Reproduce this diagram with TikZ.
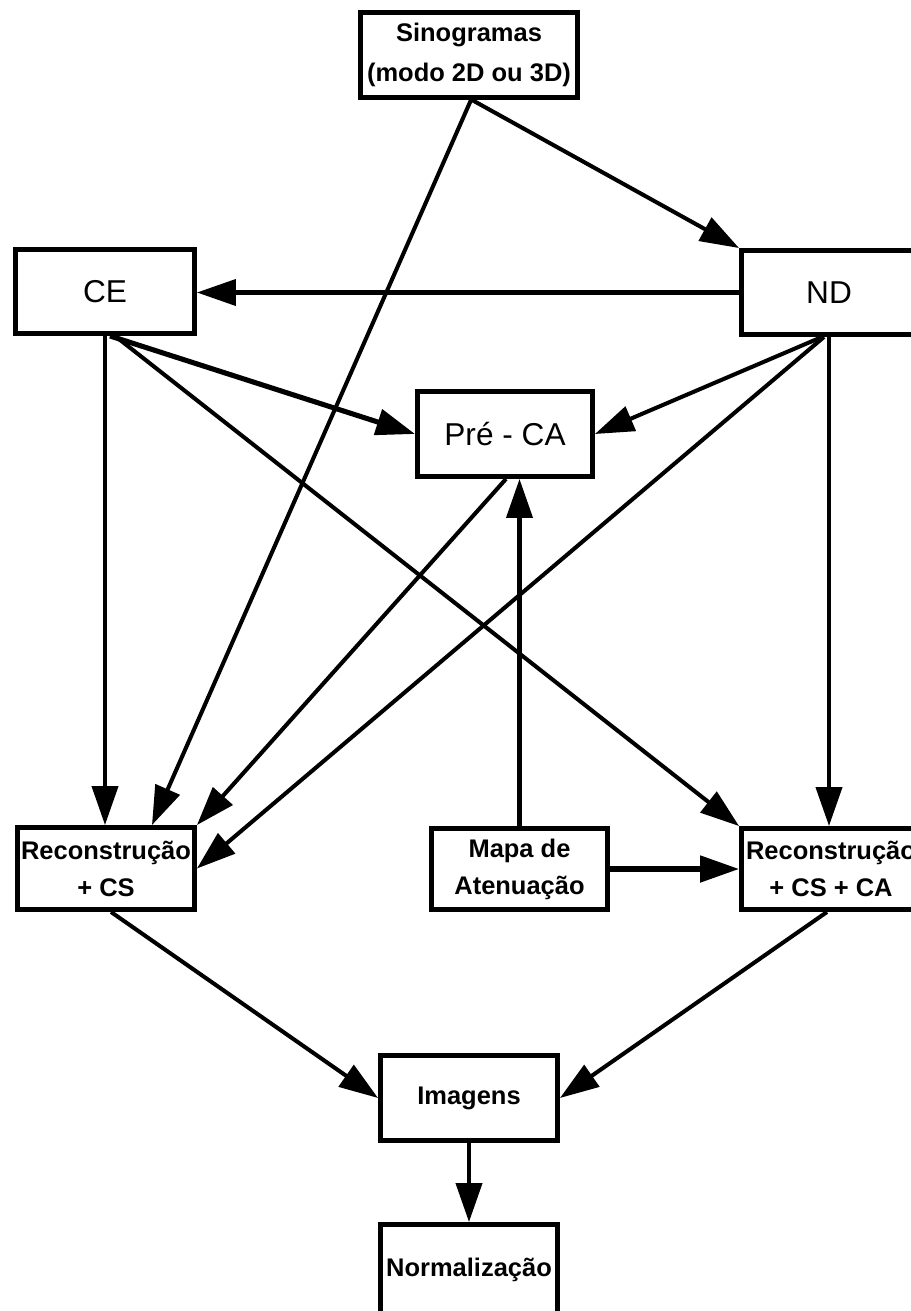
\documentclass[tikz,border=0pt]{standalone}
\usepackage{fontspec}
\setmainfont{Liberation Sans}
\usetikzlibrary{arrows.meta}

\tikzset{
  box/.style={draw=black, line width=2.8pt, fill=white, rectangle, inner sep=0pt, align=center},
  boldtxt/.style={font=\bfseries\fontsize{14.5}{21}\selectfont},
  plaintxt/.style={font=\fontsize{18}{22}\selectfont},
  flow/.style={line width=2.3pt, -{Triangle[length=0.78cm,width=0.52cm]}},
  heavyflow/.style={line width=2.9pt, -{Triangle[length=0.78cm,width=0.52cm]}}
}

\begin{document}
\begin{tikzpicture}[x=0.02cm, y=-0.02cm]
  \useasboundingbox (0,0) rectangle (911,1311);
  \fill[white] (0,0) rectangle (911,1311);
  \clip (0,0) rectangle (911,1311);

  % processing stages
  \node[box, boldtxt, minimum width=4.34cm, minimum height=1.70cm, font=\bfseries\fontsize{14.5}{23}\selectfont] (sino) at (469,55) {Sinogramas\\(modo 2D ou 3D)};
  \node[box, plaintxt, minimum width=3.58cm, minimum height=1.68cm] (ce) at (105,291.5) {CE};
  \node[box, plaintxt, minimum width=3.50cm, minimum height=1.68cm] (nd) at (829,292.5) {ND};
  \node[box, plaintxt, minimum width=3.50cm, minimum height=1.70cm] (preca) at (505,434) {Pré - CA};
  \node[box, boldtxt, minimum width=3.54cm, minimum height=1.64cm] (rcs) at (106,868.5) {Reconstrução\\+ CS};
  \node[box, boldtxt, minimum width=3.52cm, minimum height=1.62cm] (mapa) at (519.5,869) {Mapa de\\Atenuação};
  \node[box, boldtxt, minimum width=3.58cm, minimum height=1.62cm] (rcsca) at (831,869) {Reconstrução\\+ CS + CA};
  \node[box, boldtxt, minimum width=3.54cm, minimum height=1.70cm] (img) at (469,1098) {Imagens};
  \node[box, boldtxt, minimum width=3.54cm, minimum height=1.82cm] (norm) at (469,1270) {Normalização};

  % connectors
  \draw[flow] ([xshift=0.06cm]sino.south) -- (nd.north west);
  \draw[flow] ([xshift=0.04cm]sino.south) -- ([xshift=0.92cm]rcs.north);
  \draw[flow] (nd.west) -- (nd.west -| ce.east);
  \draw[flow] (ce.south) -- (ce.south |- rcs.north);
  \draw[heavyflow] ([xshift=0.10cm]ce.south) -- (preca.west);
  \draw[flow] ([xshift=0.20cm]ce.south) -- (rcsca.north west);
  \draw[flow] ([xshift=-0.14cm]nd.south) -- (preca.east);
  \draw[flow] ([xshift=-0.10cm]nd.south) -- (rcs.east);
  \draw[flow] (nd.south) -- (nd.south |- rcsca.north);
  \draw[flow] ([xshift=0.02cm]preca.south) -- (rcs.north east);
  \draw[flow] (mapa.north) -- (mapa.north |- preca.south);
  \draw[heavyflow] (mapa.east) -- (rcsca.west);
  \draw[flow] ([xshift=0.10cm]rcs.south) -- (img.west);
  \draw[flow] ([xshift=-0.08cm]rcsca.south) -- (img.east);
  \draw[flow] (img.south) -- (norm.north);
\end{tikzpicture}
\end{document}
